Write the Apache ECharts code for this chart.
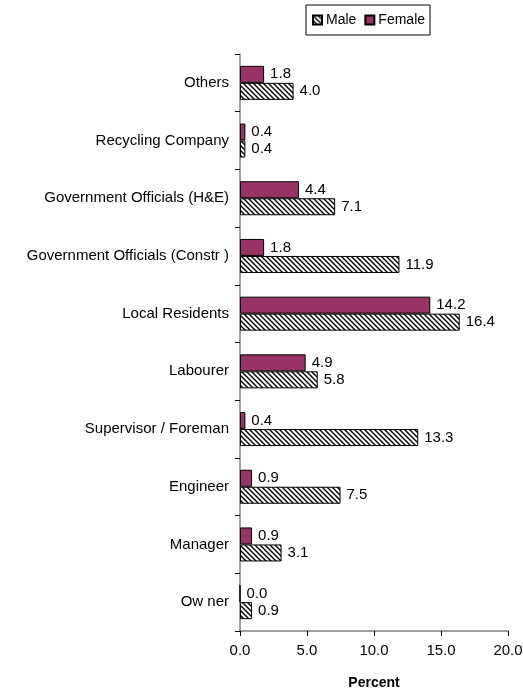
<!DOCTYPE html>
<html><head><meta charset="utf-8">
<script src="https://cdn.jsdelivr.net/npm/echarts@6/dist/echarts.min.js"></script>
<style>html,body{margin:0;padding:0;background:#fff}#c{width:523px;height:690px}</style>
</head><body><div id="c"></div>
<script>
var categories = ["Ow ner","Manager","Engineer","Supervisor / Foreman","Labourer","Local Residents","Government Officials (Constr )","Government Officials (H&E)","Recycling Company","Others"];
var maleValues = [0.9,3.1,7.5,13.3,5.8,16.4,11.9,7.1,0.4,4.0];
var femaleValues = [0.0,0.9,0.9,0.4,4.9,14.2,1.8,4.4,0.4,1.8];
var xTicks = [0,5,10,15,20];

function hatch(){
  var c = document.createElement('canvas');
  c.width = 5; c.height = 5;
  var g = c.getContext('2d');
  g.fillStyle = '#fff'; g.fillRect(0,0,5,5);
  g.strokeStyle = '#000'; g.lineWidth = 1.4;
  g.beginPath();
  g.moveTo(-1,-1); g.lineTo(6,6);
  g.moveTo(-6,-1); g.lineTo(1,6);
  g.moveTo(4,-1); g.lineTo(11,6);
  g.stroke();
  return c;
}
var pat = {image: hatch(), repeat: 'repeat'};
var font = 'Liberation Sans, Arial, sans-serif';
var fs = 15;
function fmt(p){ return (typeof p === 'number' ? p : p.value).toFixed(1); }
var chart = echarts.init(document.getElementById('c'), null, {renderer:'canvas'});
chart.setOption({
  animation:false,
  textStyle:{fontFamily:font},
  legend:{
    data:['Male','Female'], left:306, top:5, orient:'horizontal',
    borderColor:'#000', borderWidth:1, padding:[8,5,8,6],
    itemWidth:9, itemHeight:9, itemGap:8, icon:'rect',
    textStyle:{fontSize:14, color:'#000', fontFamily:font, padding:[0,0,0,-1]}
  },
  grid:{left:240, right:15, top:54, bottom:59, containLabel:false, outerBoundsMode:'none'},
  xAxis:{
    type:'value', min:xTicks[0], max:xTicks[xTicks.length-1], interval:5,
    name:'Percent', nameLocation:'middle', nameGap:45,
    nameTextStyle:{fontWeight:'bold', fontSize:14, color:'#000', fontFamily:font},
    axisLine:{show:true, lineStyle:{color:'#808080', width:1.5}},
    axisTick:{show:true, length:5, lineStyle:{color:'#000'}},
    axisLabel:{fontSize:fs, color:'#000', margin:12, formatter:fmt},
    splitLine:{show:false}
  },
  yAxis:{
    type:'category', data:categories,
    axisLine:{show:true, lineStyle:{color:'#808080', width:1.5}},
    axisTick:{show:true, length:5, alignWithLabel:false, lineStyle:{color:'#000'}},
    axisLabel:{fontSize:fs, color:'#000', margin:11}
  },
  series:[
    {name:'Female', type:'bar', data:femaleValues, barWidth:17, barGap:'0%',
     itemStyle:{color:'#993366', borderColor:'#000', borderWidth:1},
     label:{show:true, position:'right', distance:6, fontSize:fs, color:'#000', formatter:fmt}},
    {name:'Male', type:'bar', data:maleValues, barWidth:17, barGap:'0%',
     itemStyle:{color:pat, borderColor:'#000', borderWidth:1},
     label:{show:true, position:'right', distance:6, fontSize:fs, color:'#000', formatter:fmt}}
  ]
});
</script></body></html>
